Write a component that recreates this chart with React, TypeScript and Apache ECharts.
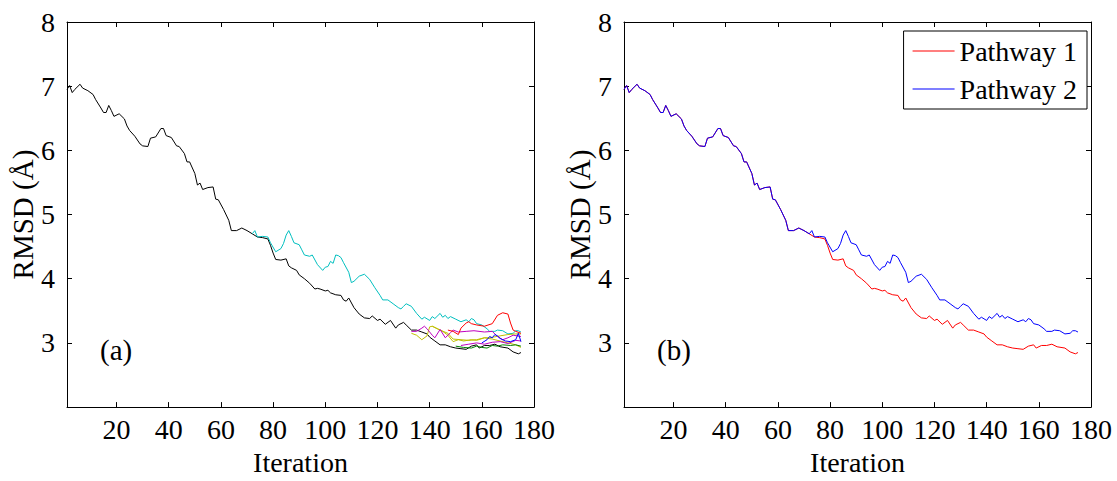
import React, { useEffect, useRef } from "react";
import * as echarts from "echarts";

const xTicks = [20, 40, 60, 80, 100, 120, 140, 160, 180];

// shared start of both pathways
const trunkIter = [1, 2, 3, 4, 6, 7, 9, 11, 12, 14, 15, 16, 17, 18, 19, 21, 23, 24, 25, 27, 29, 30, 32, 33, 35, 37, 38, 39, 41, 43, 44, 46, 47, 48, 50, 51, 52, 53, 55, 57, 58, 59, 61, 63, 64, 66, 68, 70, 72];
const trunkRmsd = [6.95, 7.01, 6.9, 6.95, 7.03, 6.97, 6.93, 6.87, 6.79, 6.66, 6.59, 6.59, 6.7, 6.62, 6.53, 6.57, 6.49, 6.38, 6.31, 6.22, 6.1, 6.07, 6.06, 6.19, 6.21, 6.34, 6.34, 6.23, 6.2, 6.07, 6.06, 5.95, 5.82, 5.82, 5.64, 5.46, 5.49, 5.39, 5.42, 5.43, 5.24, 5.23, 5.08, 4.91, 4.75, 4.75, 4.79, 4.75, 4.7];

// pathway 1 continuation
const path1Iter = [74, 76, 78, 79, 80, 81, 83, 85, 86, 87, 89, 90, 92, 94, 96, 97, 98, 100, 101, 102, 104, 106, 107, 108, 109, 111, 113, 115, 117, 118, 120, 121, 123, 125, 127, 128, 130, 131, 133, 135, 137, 139, 140, 142, 144, 146, 148, 150, 152, 154, 156, 158, 159, 161, 163, 165, 167, 170, 172, 174, 175];
const path1Rmsd = [4.65, 4.64, 4.62, 4.52, 4.4, 4.3, 4.29, 4.31, 4.2, 4.17, 4.13, 4.06, 4.0, 3.93, 3.84, 3.85, 3.84, 3.81, 3.82, 3.78, 3.75, 3.74, 3.67, 3.65, 3.7, 3.55, 3.45, 3.39, 3.38, 3.42, 3.35, 3.37, 3.29, 3.35, 3.23, 3.28, 3.32, 3.28, 3.2, 3.2, 3.17, 3.14, 3.09, 3.03, 2.97, 2.97, 2.94, 2.92, 2.91, 2.9, 2.95, 2.97, 2.92, 2.96, 2.96, 2.98, 2.94, 2.92, 2.86, 2.83, 2.85];

// pathway 2 continuation
const path2Iter = [73, 74, 76, 78, 79, 81, 83, 84, 85, 86, 87, 88, 90, 91, 92, 94, 95, 97, 99, 100, 101, 102, 103, 104, 105, 106, 107, 109, 110, 111, 113, 115, 117, 119, 121, 122, 124, 126, 128, 129, 130, 131, 133, 135, 137, 138, 140, 141, 142, 144, 145, 146, 147, 148, 150, 152, 154, 155, 156, 157, 158, 160, 162, 163, 165, 166, 168, 170, 172, 173, 174, 175];
const path2Rmsd = [4.75, 4.65, 4.66, 4.65, 4.56, 4.42, 4.47, 4.55, 4.68, 4.75, 4.66, 4.56, 4.53, 4.45, 4.37, 4.35, 4.37, 4.22, 4.13, 4.18, 4.19, 4.27, 4.24, 4.37, 4.36, 4.33, 4.25, 4.1, 3.94, 3.96, 4.04, 4.07, 3.99, 3.86, 3.74, 3.67, 3.67, 3.61, 3.55, 3.53, 3.57, 3.61, 3.57, 3.46, 3.37, 3.4, 3.35, 3.41, 3.38, 3.46, 3.4, 3.43, 3.38, 3.41, 3.37, 3.33, 3.36, 3.33, 3.38, 3.36, 3.3, 3.28, 3.22, 3.18, 3.18, 3.2, 3.19, 3.14, 3.15, 3.19, 3.19, 3.17];

// short explorations, panel (a)
const redIter = [147, 149, 151, 152, 154, 155, 156, 158, 161, 164, 166, 168, 170, 171, 172, 173, 175];
const redRmsd = [3.2, 3.18, 3.13, 3.23, 3.31, 3.33, 3.3, 3.28, 3.26, 3.3, 3.43, 3.47, 3.45, 3.31, 3.2, 3.18, 3.15];
const magentaIter = [133, 135, 137, 138, 139, 141, 142, 144, 146, 148, 149, 151, 154, 157, 161, 164, 166, 168, 170, 172, 175];
const magentaRmsd = [3.18, 3.18, 3.23, 3.26, 3.22, 3.12, 3.08, 3.21, 3.08, 3.16, 3.2, 3.17, 3.18, 3.19, 3.17, 3.18, 3.1, 3.05, 3.08, 3.12, 3.1];
const magenta2Iter = [152, 155, 158, 161, 164, 167, 170, 173, 175];
const magenta2Rmsd = [2.96, 2.98, 3.0, 2.98, 3.01, 3.02, 2.99, 3.04, 3.03];
const yellowIter = [133, 135, 137, 139, 140, 141, 142, 144, 147, 149, 152, 155, 158, 161, 163, 167, 170, 173, 175];
const yellowRmsd = [3.15, 3.12, 3.05, 3.11, 3.25, 3.26, 3.24, 3.2, 3.15, 3.06, 3.05, 3.04, 3.05, 3.08, 3.08, 3.11, 3.13, 3.14, 3.14];
const yellow2Iter = [141, 143, 145, 147, 149, 151, 153, 156, 158, 161, 164, 167, 170, 173, 175];
const yellow2Rmsd = [3.26, 3.22, 3.18, 3.12, 3.02, 3.05, 3.03, 3.05, 3.04, 3.08, 3.06, 3.03, 3.0, 2.97, 2.93];
const blueIter = [160, 162, 163, 164, 165, 166, 167, 169, 171, 173, 174, 175];
const blueRmsd = [3.0, 3.05, 3.1, 3.08, 3.13, 3.11, 3.07, 3.03, 3.02, 3.05, 3.15, 3.02];
const greenIter = [150, 153, 156, 158, 160, 162, 164, 166, 168, 171, 173, 175];
const greenRmsd = [2.95, 2.93, 2.92, 2.95, 2.93, 2.92, 2.96, 2.95, 2.97, 2.96, 2.97, 2.95];

const FONT = "Liberation Serif";

function pairs(xs: number[], ys: number[]) {
  return xs.map((x, i) => [x, ys[i]]);
}

function xAxis(gridIndex: number, position: "bottom" | "top", labels: boolean) {
  return {
    type: "value",
    gridIndex,
    position,
    min: 1,
    max: 180,
    name: labels ? "Iteration" : "",
    nameLocation: "middle",
    nameGap: 36,
    nameTextStyle: { fontFamily: FONT, fontSize: 28, color: "#000" },
    axisLine: { show: true, onZero: false, lineStyle: { color: "#000", width: 1 } },
    axisTick: { show: true, inside: true, length: 5, customValues: xTicks, lineStyle: { color: "#000" } },
    axisLabel: { show: labels, customValues: xTicks, fontFamily: FONT, fontSize: 28, color: "#000", margin: 8 },
    splitLine: { show: false },
  };
}

function yAxis(gridIndex: number, position: "left" | "right", labels: boolean) {
  return {
    type: "value",
    gridIndex,
    position,
    min: 2,
    max: 8,
    interval: 1,
    name: labels ? "RMSD (Å)" : "",
    nameLocation: "middle",
    nameGap: 28,
    nameTextStyle: { fontFamily: FONT, fontSize: 29, color: "#000" },
    axisLine: { show: true, onZero: false, lineStyle: { color: "#000", width: 1 } },
    axisTick: { show: true, inside: true, length: 5, lineStyle: { color: "#000" } },
    axisLabel: { show: labels, showMinLabel: false, fontFamily: FONT, fontSize: 28, color: "#000", margin: 12 },
    splitLine: { show: false },
  };
}

function line(name: string, data: number[][], color: string, xi: number, yi: number) {
  return {
    name,
    type: "line",
    xAxisIndex: xi,
    yAxisIndex: yi,
    data,
    symbol: "none",
    showSymbol: false,
    lineStyle: { color, width: 1 },
    itemStyle: { color },
  };
}

export default function App() {
  const ref = useRef<HTMLDivElement>(null);
  useEffect(() => {
    if (!ref.current) return;
    const chart = echarts.init(ref.current, null, { renderer: "svg" });
    const trunk = pairs(trunkIter, trunkRmsd);
    const p1 = trunk.concat(pairs(path1Iter, path1Rmsd));
    const p2 = trunk.concat(pairs(path2Iter, path2Rmsd));
    const cyanBranch = [trunk[trunk.length - 1]].concat(pairs(path2Iter, path2Rmsd));
    chart.setOption({
      animation: false,
      backgroundColor: "#fff",
      grid: [
        { left: 67, top: 22, width: 467, height: 394 },
        { left: 624, top: 22, width: 467, height: 394 },
      ],
      xAxis: [xAxis(0, "bottom", true), xAxis(0, "top", false), xAxis(1, "bottom", true), xAxis(1, "top", false)],
      yAxis: [yAxis(0, "left", true), yAxis(0, "right", false), yAxis(1, "left", true), yAxis(1, "right", false)],
      legend: {
        data: ["Pathway 1", "Pathway 2"],
        orient: "vertical",
        right: 30,
        top: 31,
        padding: [5, 10, 5, 9],
        itemGap: 8,
        itemWidth: 42,
        itemHeight: 1.2,
        icon: "rect",
        borderColor: "#000",
        borderWidth: 1,
        backgroundColor: "#fff",
        textStyle: { fontFamily: FONT, fontSize: 28, color: "#000", lineHeight: 30 },
      },
      graphic: [
        { type: "text", left: 100, top: 335, style: { text: "(a)", fontFamily: FONT, fontSize: 29, fill: "#000" } },
        { type: "text", left: 657, top: 335, style: { text: "(b)", fontFamily: FONT, fontSize: 29, fill: "#000" } },
      ],
      series: [
        line("p1a", p1, "#000000", 0, 0),
        line("p2a", cyanBranch, "#00BFBF", 0, 0),
        line("ya", pairs(yellowIter, yellowRmsd), "#BFBF00", 0, 0),
        line("y2a", pairs(yellow2Iter, yellow2Rmsd), "#BFBF00", 0, 0),
        line("ma", pairs(magentaIter, magentaRmsd), "#BF00BF", 0, 0),
        line("m2a", pairs(magenta2Iter, magenta2Rmsd), "#BF00BF", 0, 0),
        line("ga", pairs(greenIter, greenRmsd), "#008000", 0, 0),
        line("ba", pairs(blueIter, blueRmsd), "#0000FF", 0, 0),
        line("ra", pairs(redIter, redRmsd), "#FF0000", 0, 0),
        line("Pathway 1", p1, "#FF0000", 2, 2),
        line("Pathway 2", p2, "#0000FF", 2, 2),
      ],
    });
    return () => chart.dispose();
  }, []);
  return <div ref={ref} style={{ position: "fixed", left: 0, top: 0, width: 1117, height: 481 }} />;
}
